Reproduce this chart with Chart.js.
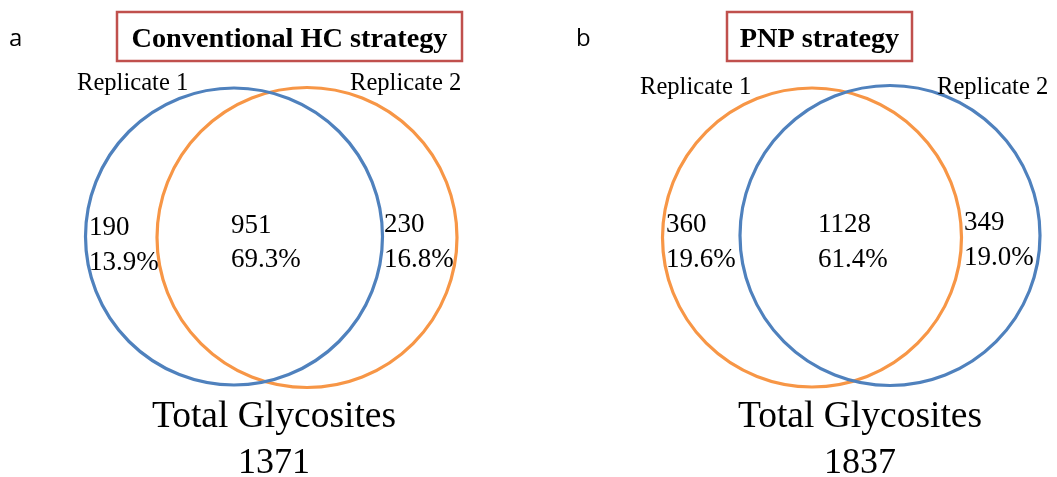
<!DOCTYPE html>
<html>
<head>
<meta charset="utf-8">
<script src="https://cdn.jsdelivr.net/npm/chart.js@4.4.1/dist/chart.umd.min.js"></script>
<style>
    html, body { margin: 0; padding: 0; background: #ffffff; }
    #wrap { position: relative; width: 1057px; height: 477px; }
</style>
</head>
<body>
<div id="wrap"><canvas id="vennChart"></canvas></div>
<script>
// panel text
const panelLetters = ["a", "b"];
const panelTitles = ["Conventional HC strategy", "PNP strategy"];
const setNames = ["Replicate 1", "Replicate 2"];

// region counts: only replicate 1, overlap, only replicate 2 (panel b reads left to right: rep 1, overlap, rep 2)
const countsA = [190, 951, 230];
const percentA = ["13.9%", "69.3%", "16.8%"];
const countsB = [360, 1128, 349];
const percentB = ["19.6%", "61.4%", "19.0%"];
const totals = [1371, 1837];

// circle geometry in figure units (centre x, centre y, radius)
const blueCircles = [
    { x: 234, y: 236.5, r: 148.5 },   // a: replicate 1
    { x: 890, y: 235.5, r: 150 },     // b: replicate 2
];
const orangeCircles = [
    { x: 307, y: 237.5, r: 150 },     // a: replicate 2
    { x: 812, y: 237.5, r: 149.5 },   // b: replicate 1
];

const BLUE = "#4F81BD";
const ORANGE = "#F79646";
const BOX_RED = "#C0504D";
const SERIF = "'Liberation Serif', 'Times New Roman', serif";

const chartCanvas = document.getElementById("vennChart");

function radiusInPixels(context) {
    const chart = context.chart;
    const point = context.raw;
    if (!point) {
        return 0;
    }
    const xScale = chart.scales.x;
    return Math.abs(xScale.getPixelForValue(point.x + point.r) - xScale.getPixelForValue(point.x));
}

// labels placed in figure units, drawn through the scales
const textLayout = {
    letters: [{ x: 9, y: 46 }, { x: 576, y: 46 }],
    titleBoxes: [
        { left: 117, right: 462, top: 12, bottom: 61 },
        { left: 727, right: 912, top: 12, bottom: 61 },
    ],
    titleBaseline: 47,
    setNames: [
        [{ x: 77, y: 90 }, { x: 350, y: 90 }],
        [{ x: 640, y: 94 }, { x: 937, y: 94 }],
    ],
    countX: [[89, 231, 384], [666, 818, 964]],
    countY: [[235, 233, 232], [232, 232, 230]],
    percentY: [[270, 267, 267], [267, 267, 265]],
    totalCentre: [274, 860],
};

const vennText = {
    id: "vennText",
    afterDatasetsDraw(chart) {
        const ctx = chart.ctx;
        const xs = chart.scales.x;
        const ys = chart.scales.y;
        const px = v => xs.getPixelForValue(v);
        const py = v => ys.getPixelForValue(v);

        ctx.save();
        ctx.fillStyle = "#000000";
        ctx.textBaseline = "alphabetic";

        // panel letters
        ctx.font = "24px 'Open Sans', sans-serif";
        ctx.textAlign = "left";
        panelLetters.forEach((letter, i) => {
            const pos = textLayout.letters[i];
            ctx.fillText(letter, px(pos.x), py(pos.y));
        });

        // title boxes
        panelTitles.forEach((title, i) => {
            const box = textLayout.titleBoxes[i];
            ctx.strokeStyle = BOX_RED;
            ctx.lineWidth = 2.5;
            ctx.strokeRect(px(box.left), py(box.top), px(box.right) - px(box.left), py(box.bottom) - py(box.top));
            ctx.font = "bold 28.3px " + SERIF;
            ctx.textAlign = "center";
            ctx.fillText(title, px((box.left + box.right) / 2), py(textLayout.titleBaseline));
        });

        // set names
        ctx.font = "24.6px " + SERIF;
        ctx.textAlign = "left";
        textLayout.setNames.forEach(panel => {
            panel.forEach((pos, j) => {
                ctx.fillText(setNames[j], px(pos.x), py(pos.y));
            });
        });

        // region counts and percentages
        ctx.font = "27px " + SERIF;
        [[countsA, percentA], [countsB, percentB]].forEach(([counts, percents], i) => {
            counts.forEach((count, j) => {
                ctx.fillText(String(count), px(textLayout.countX[i][j]), py(textLayout.countY[i][j]));
                ctx.fillText(percents[j], px(textLayout.countX[i][j]), py(textLayout.percentY[i][j]));
            });
        });

        // totals
        ctx.font = "37.5px " + SERIF;
        ctx.textAlign = "center";
        totals.forEach((total, i) => {
            ctx.fillText("Total Glycosites", px(textLayout.totalCentre[i]), py(427));
        });
        ctx.font = "36px " + SERIF;
        totals.forEach((total, i) => {
            ctx.fillText(String(total), px(textLayout.totalCentre[i]), py(473));
        });

        ctx.restore();
    },
};

const vennChart = new Chart(chartCanvas, {
    type: "scatter",
    data: {
        datasets: [
            {
                label: "blue",
                data: blueCircles,
                pointRadius: radiusInPixels,
                pointBackgroundColor: "rgba(0,0,0,0)",
                pointBorderColor: BLUE,
                pointBorderWidth: 3.2,
                clip: false,
            },
            {
                label: "orange",
                data: orangeCircles,
                pointRadius: radiusInPixels,
                pointBackgroundColor: "rgba(0,0,0,0)",
                pointBorderColor: ORANGE,
                pointBorderWidth: 3.2,
                clip: false,
            },
        ],
    },
    options: {
        responsive: true,
        maintainAspectRatio: false,
        animation: false,
        events: [],
        layout: { padding: 0 },
        plugins: {
            legend: { display: false },
            title: { display: false },
            tooltip: { enabled: false },
        },
        scales: {
            x: { type: "linear", min: 0, max: 1057, display: false },
            y: { type: "linear", min: 0, max: 477, reverse: true, display: false },
        },
    },
    plugins: [vennText],
});
</script>
</body>
</html>
